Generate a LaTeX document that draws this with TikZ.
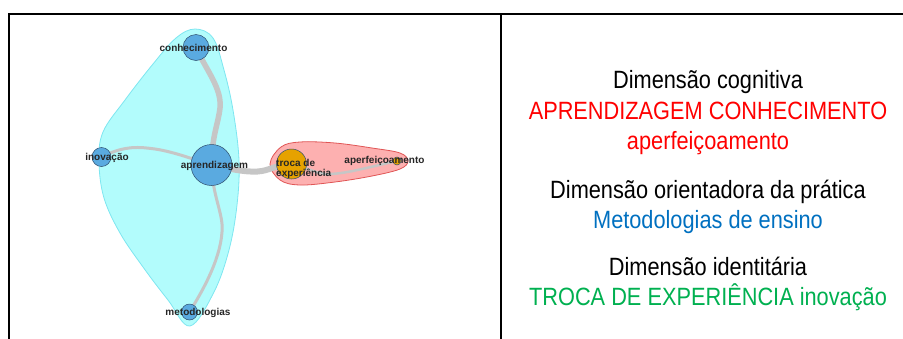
\documentclass[tikz,border=0pt]{standalone}
\usepackage{fontspec}
\setmainfont{Liberation Sans}
\newfontfamily\panelfont[FakeStretch=0.87]{Liberation Sans}
\usetikzlibrary{calc}
\definecolor{hullcyan}{HTML}{B2FCFC}
\definecolor{hullcyanline}{HTML}{7EE6F0}
\definecolor{hullred}{HTML}{FDB0B0}
\definecolor{hullredline}{HTML}{E05555}
\definecolor{vblue}{HTML}{5AAAE0}
\definecolor{vorange}{HTML}{E6A200}
\definecolor{vline}{HTML}{2F4F6F}
\definecolor{edgegrey}{HTML}{C6C6C6}
\definecolor{lbltext}{HTML}{262626}
\definecolor{txtred}{HTML}{FF0000}
\definecolor{txtblue}{HTML}{0070C0}
\definecolor{txtgreen}{HTML}{00B050}
\tikzset{
  frameline/.style={line width=2pt, black},
  vtx/.style={circle, draw=vline, line width=0.5pt, inner sep=0pt},
  bluevtx/.style={vtx, fill=vblue},
  orangevtx/.style={vtx, fill=vorange},
  lbl/.style={font=\bfseries\fontsize{10}{10}\selectfont, text=lbltext, inner sep=0pt},
  link/.style={draw=edgegrey, line cap=round, line join=round},
  paneltext/.style={font=\panelfont\fontsize{25}{30}\selectfont, anchor=base, inner sep=0pt},
}
\begin{document}
\begin{tikzpicture}[x=1pt, y=-1pt]
\useasboundingbox (0,0) rectangle (903,338);

% cluster hulls
\fill[hullcyan, draw=hullcyanline, line width=0.8pt] plot[smooth cycle, tension=0.6] coordinates {
  (195,29) (213,38) (224,70) (233,110) (239,160) (237,205) (229,250) (214,292)
  (190,326) (168,300) (143,267) (120,233) (104,198) (99,162) (103,132) (125,100) (153,64) (176,38)};
\fill[hullred, draw=hullredline, line width=0.8pt] plot[smooth cycle, tension=0.6] coordinates {
  (270,164) (281,147) (300,142) (335,143) (372,148) (400,153) (408,161) (400,169)
  (372,176) (335,182) (300,185) (280,180)};

% vertex positions (named so the edges can start and end on them)
\coordinate (con) at (196,47.5);
\coordinate (apr) at (211.5,165);
\coordinate (ino) at (101.5,157);
\coordinate (met) at (189.5,312);
\coordinate (tro) at (291.5,164);
\coordinate (ape) at (397,161);

% edges, drawn beneath the vertices
\path[link, line width=5.5pt] (con) .. controls (206,70) and (222,88) .. (220,108)
  .. controls (218,125) and (212,135) .. (apr);
\path[link, line width=3pt] (ino) .. controls (125,145) and (140,147) .. (155,149)
  .. controls (175,152) and (195,160) .. (apr);
\path[link, line width=3pt] (apr) .. controls (212,195) and (224,215) .. (222,232)
  .. controls (220,262) and (200,295) .. (met);
\path[link, line width=6pt] (apr) .. controls (235,170) and (250,173) .. (262,171)
  .. controls (272,169) and (280,164) .. (tro);
\path[link, line width=2.5pt] (tro) .. controls (305,166) and (315,174) .. (328,174)
  .. controls (345,174) and (365,168) .. (ape);

% vertices
\node[bluevtx, minimum size=26pt] (conV) at (con) {};
\node[bluevtx, minimum size=41pt] (aprV) at (apr) {};
\node[bluevtx, minimum size=19pt] (inoV) at (ino) {};
\node[bluevtx, minimum size=16pt] (metV) at (met) {};
\node[orangevtx, minimum size=30pt] (troV) at (tro) {};
\node[orangevtx, minimum size=8pt] (apeV) at (ape) {};

% vertex labels
\node[lbl] (conL) at (193.5,48) {conhecimento};
\node[lbl] (aprL) at (214.5,165.5) {aprendizagem};
\node[lbl] (inoL) at (107,157.5) {inovação};
\node[lbl] (metL) at (198,312.5) {metodologias};
\node[lbl, anchor=west, align=left] (troL) at (276,169) {troca de\\experiência};
\node[lbl] (apeL) at (384.5,160.5) {aperfeiçoamento};

% table frame
\draw[frameline] (8.5,339) -- (8.5,14) -- (904,14);
\draw[frameline] (501,14) -- (501,339);

% dimensions listed on the right
\node[paneltext] (d1) at (708,88) {Dimensão cognitiva};
\node[paneltext, text=txtred] (d1a) at (708,119) {APRENDIZAGEM CONHECIMENTO};
\node[paneltext, text=txtred] (d1b) at (708,149) {aperfeiçoamento};
\node[paneltext] (d2) at (708,198) {Dimensão orientadora da prática};
\node[paneltext, text=txtblue] (d2a) at (708,228) {Metodologias de ensino};
\node[paneltext] (d3) at (708,275) {Dimensão identitária};
\node[paneltext, text=txtgreen] (d3a) at (708,305) {TROCA DE EXPERIÊNCIA inovação};
\end{tikzpicture}
\end{document}
